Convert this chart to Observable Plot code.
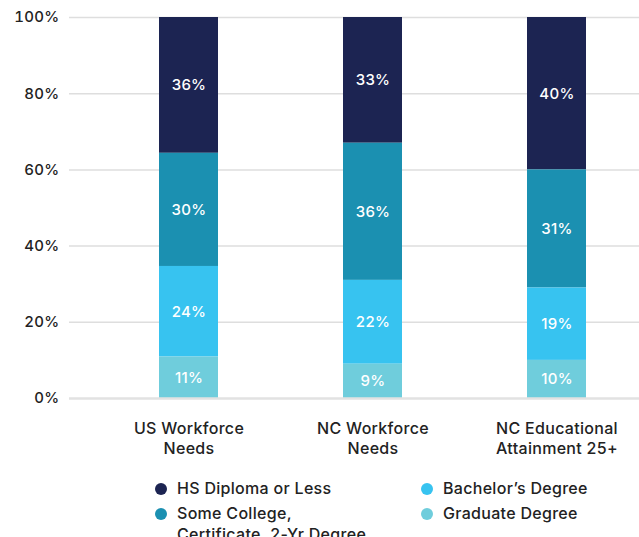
<!DOCTYPE html>
<html>
<head>
<meta charset="utf-8">
<script src="https://cdn.jsdelivr.net/npm/d3@7"></script>
<script src="https://cdn.jsdelivr.net/npm/@observablehq/plot@0.6"></script>
<style>
  html, body { margin: 0; padding: 0; background: #fff; overflow: hidden; }
  body { width: 639px; height: 537px; font-family: Inter, "Open Sans", sans-serif; }
  #legend { position: relative; height: 80px; }
  .item { position: absolute; display: flex; align-items: flex-start; font-size: 16px; font-weight: 500; color: #222; line-height: 21px; letter-spacing: 0.3px; }
  .dot { width: 12px; height: 12px; border-radius: 50%; margin-top: 5px; margin-right: 10px; flex: none; }
</style>
</head>
<body>
<div id="chart"></div>
<div id="legend"></div>
<script>
const groups = ["US Workforce\nNeeds", "NC Workforce\nNeeds", "NC Educational\nAttainment 25+"];
const levels = ["HS Diploma or Less", "Some College, Certificate, 2-Yr Degree", "Bachelor’s Degree", "Graduate Degree"];
const legendLabels = ["HS Diploma or Less", "Some College,<br>Certificate, 2-Yr Degree", "Bachelor’s Degree", "Graduate Degree"];
const colors = ["#1c2452", "#1b90b1", "#37c3f0", "#6fcddc"];
const hsValues = [36, 33, 40];
const someCollegeValues = [30, 36, 31];
const bachelorValues = [24, 22, 19];
const graduateValues = [11, 9, 10];
const yTicks = [0, 0.2, 0.4, 0.6, 0.8, 1];

const series = [hsValues, someCollegeValues, bachelorValues, graduateValues];
const data = [];
groups.forEach((g, i) => levels.forEach((l, j) => data.push({group: g, level: l, value: series[j][i]})));
const stackOrder = [levels[3], levels[2], levels[1], levels[0]];

const chart = Plot.plot({
  width: 639,
  height: 465,
  marginLeft: 69,
  marginRight: 0,
  marginTop: 17,
  marginBottom: 67,
  style: {fontFamily: "Inter, 'Open Sans', sans-serif", color: "#222", background: "#fff", letterSpacing: "0.3px"},
  x: {domain: groups, range: [158, 586], paddingInner: 0.68, paddingOuter: 0, label: null},
  y: {domain: [0, 1], label: null},
  color: {domain: levels, range: colors},
  marks: [
    Plot.ruleY(yTicks.slice(1), {stroke: "#dedede", strokeWidth: 1.5}),
    Plot.barY(data, Plot.stackY({x: "group", y: "value", fill: "level", order: stackOrder, offset: "normalize"})),
    Plot.text(data, Plot.stackY({x: "group", y: "value", z: "level", order: stackOrder, offset: "normalize", text: d => d.value + "%", fill: "white", fontSize: 15, fontWeight: 500})),
    Plot.ruleY([0], {stroke: "#e2e2e2", strokeWidth: 2.5}),
    Plot.axisY({ticks: yTicks, tickFormat: d3.format(".0%"), tickSize: 0, tickPadding: 10, fontSize: 15, fontWeight: 500}),
    Plot.axisX({tickSize: 0, tickPadding: 21, fontSize: 16, fontWeight: 500, lineHeight: 1.25})
  ]
});
document.getElementById("chart").appendChild(chart);

const legend = document.getElementById("legend");
const pos = [[155, 13], [155, 38], [421, 13], [421, 38]];
levels.forEach((l, i) => {
  const item = document.createElement("div");
  item.className = "item";
  item.style.left = pos[i][0] + "px";
  item.style.top = pos[i][1] + "px";
  item.innerHTML = `<span class="dot" style="background:${colors[i]}"></span><span>${legendLabels[i]}</span>`;
  legend.appendChild(item);
});
</script>
</body>
</html>
